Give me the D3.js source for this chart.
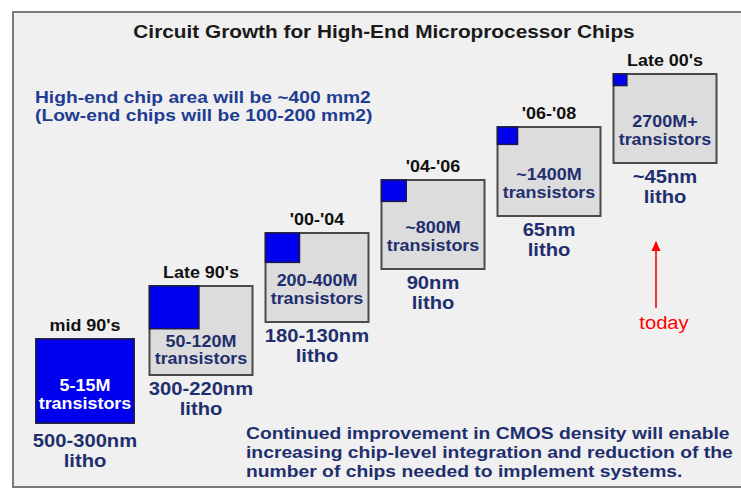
<!DOCTYPE html>
<html><head><meta charset="utf-8">
<script src="https://cdn.jsdelivr.net/npm/d3@7"></script>
<style>html,body{margin:0;padding:0;background:#fff;}svg{display:block;font-family:"Liberation Sans",Arial,sans-serif;}</style>
</head><body>
<script>
const periods = ["mid 90's", "Late 90's", "'00-'04", "'04-'06", "'06-'08", "Late 00's"];
const transistors = ["5-15M", "50-120M", "200-400M", "~800M", "~1400M", "2700M+"];
const litho = ["500-300nm", "300-220nm", "180-130nm", "90nm", "65nm", "~45nm"];
const relativeChipSize = [1, 0.48, 0.33, 0.24, 0.195, 0.13];
const titleText = "Circuit Growth for High-End Microprocessor Chips";
const noteLines = ["High-end chip area will be ~400 mm2", "(Low-end chips will be 100-200 mm2)"];
const bottomLines = ["Continued improvement in CMOS density will enable",
  "increasing chip-level integration and reduction of the",
  "number of chips needed to implement systems."];

const W = 741, H = 490;
const svg = d3.select("body").append("svg").attr("width", W).attr("height", H);

// frame
svg.append("rect").attr("x", 13).attr("y", 12).attr("width", W + 10).attr("height", 475)
  .attr("fill", "#f0f0f0").attr("stroke", "#7a7a7a").attr("stroke-width", 2);

function stretch(k) {
  return sel => sel.each(function () {
    const l = this.getComputedTextLength();
    d3.select(this).attr("textLength", l * k).attr("lengthAdjust", "spacingAndGlyphs");
  });
}

const navy = "#1f2f6e";

// title
svg.append("text").attr("x", 384).attr("y", 38).attr("text-anchor", "middle")
  .attr("font-size", 18).attr("font-weight", "bold").attr("fill", "#1a1a1a").text(titleText).call(stretch(1.155));

// note
svg.selectAll("text.note").data(noteLines).join("text").attr("class", "note")
  .attr("x", 35).attr("y", (d, i) => 103 + i * 18).attr("font-size", 17).attr("font-weight", "bold")
  .attr("fill", "#213c92").text(d => d).call(stretch(1.13));

// scales
const idx = d3.range(periods.length);
const xC = d3.scaleLinear().domain([0, periods.length - 1]).range([85, 665]);
const yTop = d3.scaleLinear().domain([0, periods.length - 1]).range([339, 74]);
const size = d3.scaleLinear().domain([0, 1]).range([0, 1]);
const boxW = i => i === 0 ? 98 : 103;
const boxH = i => i === 0 ? 84 : 89;

const g = svg.selectAll("g.chip").data(idx).join("g").attr("class", "chip");

g.append("rect").attr("x", i => xC(i) - boxW(i) / 2).attr("y", i => yTop(i))
  .attr("width", boxW).attr("height", boxH)
  .attr("fill", "#dcdcdc").attr("stroke", "#4a4a4a").attr("stroke-width", 2);

g.append("rect").attr("x", i => xC(i) - boxW(i) / 2).attr("y", i => yTop(i))
  .attr("width", i => boxW(i) * size(relativeChipSize[i]))
  .attr("height", i => boxH(i) * size(relativeChipSize[i]))
  .attr("fill", "#0000ee").attr("stroke", "#1a1a4a").attr("stroke-width", 1.5);

// period labels
g.append("text").attr("x", i => xC(i)).attr("y", i => yTop(i) - 8).attr("text-anchor", "middle")
  .attr("font-size", 16).attr("font-weight", "bold").attr("fill", "#111").text(i => periods[i]).call(stretch(1.12));

// transistor labels
const line1 = i => i === 0 ? yTop(i) + 52 : yTop(i) + Math.max(53, boxH(i) * relativeChipSize[i] + 18);
g.append("text").attr("x", i => xC(i)).attr("y", line1).attr("text-anchor", "middle")
  .attr("font-size", 16).attr("font-weight", "bold").attr("fill", i => i === 0 ? "#fff" : navy)
  .text(i => transistors[i]).call(stretch(1.12));
g.append("text").attr("x", i => xC(i)).attr("y", i => line1(i) + 17.5).attr("text-anchor", "middle")
  .attr("font-size", 16).attr("font-weight", "bold").attr("fill", i => i === 0 ? "#fff" : navy)
  .text("transistors").call(stretch(1.12));

// litho labels
g.append("text").attr("x", i => xC(i)).attr("y", i => yTop(i) + boxH(i) + (i === 0 ? 24 : 20)).attr("text-anchor", "middle")
  .attr("font-size", 18).attr("font-weight", "bold").attr("fill", navy).text(i => litho[i]).call(stretch(1.12));
g.append("text").attr("x", i => xC(i)).attr("y", i => yTop(i) + boxH(i) + (i === 0 ? 44 : 40)).attr("text-anchor", "middle")
  .attr("font-size", 18).attr("font-weight", "bold").attr("fill", navy).text("litho").call(stretch(1.12));

// today arrow
svg.append("defs").append("marker").attr("id", "ah").attr("viewBox", "0 0 10 10")
  .attr("refX", 9).attr("refY", 5).attr("markerWidth", 11).attr("markerHeight", 10)
  .attr("markerUnits", "userSpaceOnUse").attr("orient", "auto")
  .append("path").attr("d", "M0,0.5 L10,5 L0,9.5 Z").attr("fill", "#ff0000");
svg.append("line").attr("x1", 656).attr("y1", 308).attr("x2", 656).attr("y2", 242)
  .attr("stroke", "#ff0000").attr("stroke-width", 1.6).attr("marker-end", "url(#ah)");
svg.append("text").attr("x", 664).attr("y", 329).attr("text-anchor", "middle")
  .attr("font-size", 18).attr("fill", "#ff0000").text("today").call(stretch(1.12));

// bottom text
svg.selectAll("text.bottom").data(bottomLines).join("text").attr("class", "bottom")
  .attr("x", 246).attr("y", (d, i) => 439 + i * 19).attr("font-size", 17).attr("font-weight", "bold")
  .attr("fill", navy).text(d => d).call(stretch(1.135));
</script>
</body></html>
